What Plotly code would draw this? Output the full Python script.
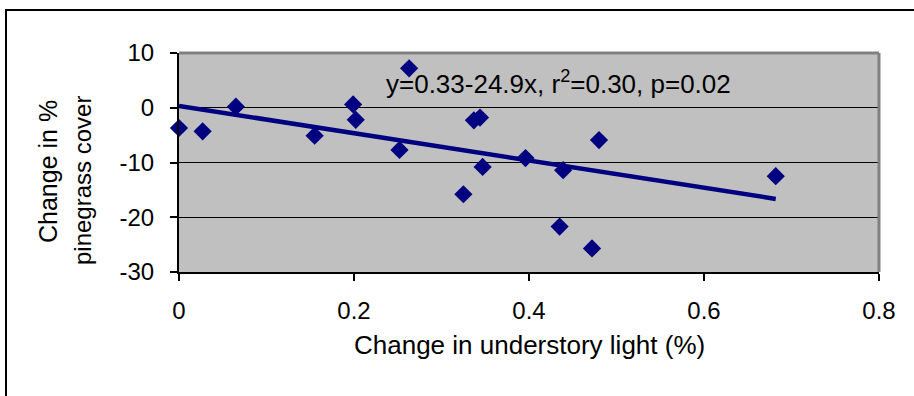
import plotly.graph_objects as go

# ---- data ----
light_change = [0.000, 0.027, 0.065, 0.155, 0.199, 0.202, 0.252, 0.263,
                0.337, 0.344, 0.347, 0.325, 0.396, 0.439, 0.435, 0.480,
                0.472, 0.682]
pinegrass_change = [-3.7, -4.3, 0.2, -5.1, 0.6, -2.2, -7.7, 7.2,
                    -2.3, -1.8, -10.8, -15.8, -9.2, -11.4, -21.7, -5.9,
                    -25.7, -12.5]
fit_intercept = 0.33
fit_slope = -24.9
x_ticks = [0, 0.2, 0.4, 0.6, 0.8]
x_tick_labels = ["0", "0.2", "0.4", "0.6", "0.8"]
y_ticks = [-30, -20, -10, 0, 10]
y_tick_labels = ["-30", "-20", "-10", "0", "10"]

W, H = 914, 396
L, R, T, B = 179, 879, 53, 272


def px(x):
    return (x - L) / (R - L)


def py(y):
    return (B - y) / (B - T)


fit_x = [min(light_change), max(light_change)]
fit_y = [fit_intercept + fit_slope * v for v in fit_x]

NAVY = "#000080"
FONT = "Liberation Sans, Arial, sans-serif"

fig = go.Figure()
fig.add_trace(go.Scatter(
    x=light_change, y=pinegrass_change, mode="markers",
    marker=dict(symbol="diamond", size=14, color=NAVY, line=dict(width=0)),
    showlegend=False, cliponaxis=False))
fig.add_trace(go.Scatter(
    x=fit_x, y=fit_y, mode="lines",
    line=dict(color=NAVY, width=4.5),
    showlegend=False))

fig.update_layout(
    width=W, height=H, autosize=False,
    margin=dict(l=L, r=W - R, t=T, b=H - B, pad=0),
    paper_bgcolor="white", plot_bgcolor="#C0C0C0",
    font=dict(family=FONT, size=24, color="black"),
    xaxis=dict(range=[0, 0.8], tickvals=x_ticks, ticktext=x_tick_labels,
               showgrid=False, zeroline=False, showline=True, linecolor="black",
               linewidth=2, ticks="outside", ticklen=7, tickwidth=1.5,
               tickcolor="black", ticklabelstandoff=9,
               tickfont=dict(family=FONT, size=24)),
    yaxis=dict(range=[-30, 10], tickvals=y_ticks, ticktext=y_tick_labels,
               showgrid=True, gridcolor="black", gridwidth=1, zeroline=False,
               showline=True, linecolor="black", linewidth=2, ticks="outside",
               ticklen=7, tickwidth=1.5, tickcolor="black",
               ticklabelstandoff=11, tickfont=dict(family=FONT, size=24)),
    shapes=[
        # plot-area border (top and right, gray)
        dict(type="line", xref="paper", yref="paper", x0=0, x1=1, y0=1, y1=1,
             line=dict(color="#808080", width=3), layer="above"),
        dict(type="line", xref="paper", yref="paper", x0=1, x1=1, y0=0, y1=1,
             line=dict(color="#808080", width=3), layer="above"),
        # chart border
        dict(type="rect", xref="paper", yref="paper",
             x0=px(6), x1=px(1000), y0=py(1000), y1=py(10),
             line=dict(color="black", width=2), fillcolor="rgba(0,0,0,0)"),
    ],
    annotations=[
        dict(text="y=0.33-24.9x, r<sup>2</sup>=0.30, p=0.02",
             xref="paper", yref="paper", x=px(384), y=py(82),
             xanchor="left", yanchor="middle", showarrow=False,
             font=dict(family=FONT, size=26, color="black")),
        dict(text="Change in understory light (%)",
             xref="paper", yref="paper", x=px(529), y=py(345),
             xanchor="center", yanchor="middle", showarrow=False,
             font=dict(family=FONT, size=26, color="black")),
        dict(text="Change in %", textangle=-90,
             xref="paper", yref="paper", x=px(48), y=py(172),
             xanchor="center", yanchor="middle", showarrow=False,
             font=dict(family=FONT, size=25, color="black")),
        dict(text="pinegrass cover", textangle=-90,
             xref="paper", yref="paper", x=px(82), y=py(181),
             xanchor="center", yanchor="middle", showarrow=False,
             font=dict(family=FONT, size=24, color="black")),
    ],
)

fig.write_html("out.html", config={"displayModeBar": False},
               post_script="document.body.style.margin='0';")
